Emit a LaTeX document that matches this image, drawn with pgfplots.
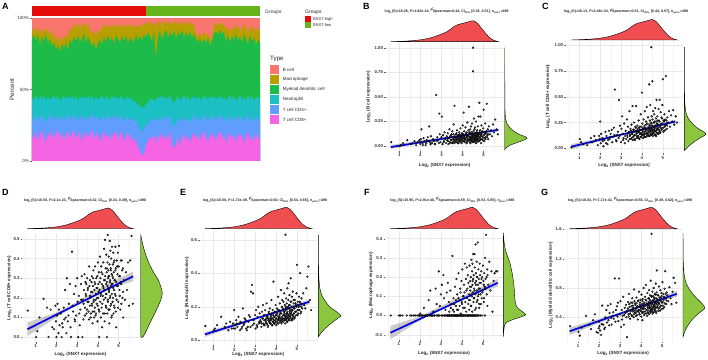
\documentclass[border=0pt]{standalone}
\usepackage{pgfplots}
\usepackage{pgfplotstable}
\usepackage{fontspec}
\setmainfont{Liberation Sans}
\pgfplotsset{compat=1.18}
\definecolor{cB}{HTML}{F8766D}
\definecolor{cMa}{HTML}{B79F00}
\definecolor{cMy}{HTML}{1CBB4A}
\definecolor{cNe}{HTML}{1BBFC4}
\definecolor{cC4}{HTML}{619CFF}
\definecolor{cC8}{HTML}{F564E3}
\definecolor{gRed}{HTML}{E60B0B}
\definecolor{gGreen}{HTML}{66B31C}
\definecolor{dRed}{HTML}{F04D50}
\definecolor{dGreen}{HTML}{8CC63F}
\definecolor{gridc}{HTML}{E8E8E8}
\definecolor{gridm}{HTML}{F3F3F3}
\pgfplotstableread{
i c1 c2 c3 c4 c5
0 19 31 44 86 91
1 15 28 43 88 93
2 21 33 46 84 90
3 14 27 42 89 94
4 18 30 45 81 88
5 22 32 44 87 92
6 16 29 46 84 91
7 13 26 42 89 93
8 20 31 45 82 89
9 17 30 43 86 92
10 21 33 44 80 87
11 15 27 46 83 90
12 19 31 43 78 84
13 22 32 45 81 88
14 16 28 42 76 82
15 20 31 44 82 87
16 14 29 46 79 85
17 18 30 43 83 89
18 21 33 45 77 86
19 16 28 44 85 93
20 19 31 46 82 91
21 22 32 43 87 96
22 15 30 45 84 93
23 18 27 42 88 97
24 20 33 45 83 92
25 14 29 44 86 95
26 17 31 46 89 97
27 21 30 43 82 93
28 16 28 45 87 96
29 19 32 44 84 92
30 22 33 46 80 89
31 15 29 42 83 91
32 18 31 45 78 87
33 20 30 43 82 92
34 13 27 44 85 90
35 17 32 46 81 93
36 21 30 43 87 95
37 16 28 45 83 94
38 19 33 44 88 96
39 14 29 42 84 92
40 20 31 46 86 95
41 17 30 44 82 94
42 22 33 45 88 96
43 15 28 43 85 92
44 18 31 44 83 95
45 21 32 46 87 94
46 13 26 42 84 96
47 17 30 44 88 93
48 20 31 45 82 95
49 15 28 43 86 94
50 18 31 44 85 96
51 12 27 41 83 92
52 16 29 42 88 95
53 10 25 39 85 94
54 7 23 39 87 96
55 4 21 38 84 93
56 5 22 37 89 97
57 11 26 40 86 95
58 14 25 41 90 96
59 17 29 43 87 98
60 15 28 44 84 95
61 19 31 42 90 97
62 12 27 43 72 93
63 18 30 45 87 97
64 16 28 44 91 98
65 20 32 46 85 94
66 14 27 43 89 97
67 18 31 45 92 98
68 15 29 43 86 96
69 21 33 46 90 97
70 11 25 42 87 95
71 9 24 41 92 98
72 12 26 43 85 96
73 17 30 45 90 97
74 10 27 42 88 95
75 16 29 44 92 98
76 19 31 46 86 96
77 14 28 43 90 97
78 18 30 45 87 94
79 13 26 42 91 98
80 17 30 44 86 96
81 20 32 46 89 95
82 15 28 43 85 89
83 19 31 45 83 87
84 14 27 44 86 90
85 18 30 42 82 86
86 21 33 46 85 90
87 16 29 44 83 88
88 13 27 43 86 89
89 19 31 45 81 85
90 16 30 44 84 87
91 20 32 46 89 95
92 14 28 43 91 97
93 18 30 44 88 94
94 21 33 46 92 97
95 15 29 43 89 96
96 19 31 45 90 95
97 12 26 42 84 92
98 17 30 44 88 94
99 20 32 46 83 90
100 15 28 43 87 93
101 18 31 45 85 92
102 13 27 42 89 95
103 20 32 44 84 94
104 16 29 46 87 91
105 19 31 43 83 92
106 12 26 44 89 96
107 17 30 42 85 93
108 21 33 46 82 89
109 14 28 43 88 95
110 18 30 45 84 91
111 13 27 42 86 94
112 20 32 44 81 89
113 16 29 45 85 93
114 15 28 43 83 92
}\stackdata
\pgfplotstableread{
x B C D E F G
0.62 .04 .01 .135 .085 0 .28
1.02 .00 .09 .00 .06 0 .20
1.08 .01 .06 .03 .07 0 .15
1.18 .03 .04 .10 .09 0 .26
1.38 .06 .03 .195 .14 0 .42
1.55 .02 .10 .15 .08 0 .30
1.62 .03 .06 .00 .10 0 .24
1.72 .05 .12 .14 .06 0 .36
1.80 .01 .08 .05 .11 0 .44
1.88 .04 .03 .04 .07 0 .20
1.95 .06 .12 .16 .10 0 .19
2.00 .02 .26 .00 .18 0 .34
2.02 .07 .05 .11 .09 .01 .28
2.05 .17 .14 .17 .07 0 .22
2.10 .03 .10 .02 .12 0 .16
2.15 .08 .02 .06 .08 0 .56
2.20 .05 .08 .12 .14 .04 .30
2.25 .01 .16 .00 .10 0 .24
2.30 .06 .12 .05 .11 0 .40
2.35 .09 .04 .15 .07 0 .50
2.42 .20 .17 .24 .19 .08 .56
2.45 .04 .09 .10 .09 0 .36
2.50 .10 .14 .30 .13 .13 .46
2.55 .03 .18 .08 .12 0 .58
2.60 .07 .11 .17 .06 0 .30
2.65 .05 .20 .27 .08 .02 .42
2.70 .02 .57 .00 .15 0 .38
2.75 .52 .08 .435 .14 .14 .93
2.80 .09 .13 .13 .29 .06 .50
2.85 .06 .16 .22 .33 0 .55
2.90 .33 .47 .08 .28 .23 .60
2.92 .12 .12 .26 .12 0 .35
2.95 .04 .22 .11 .10 .05 .93
3.00 .09 .06 .30 .15 .11 .44
3.02 .30 .19 .18 .07 0 .62
3.05 .02 .31 .00 .18 .16 .27
3.08 .11 .14 .21 .09 0 .50
3.12 .05 .10 .06 .14 .21 .42
3.15 .14 .24 .14 .20 .09 .68
3.18 .07 .05 .27 .10 0 .30
3.22 .03 .17 .31 .16 .03 .53
3.25 .10 .09 .00 .12 0 .46
3.28 .06 .28 .19 .11 .12 .57
3.30 .13 .13 .09 .08 0 .40
3.33 .02 .21 .24 .17 .17 .13
3.35 .08 .07 .32 .13 0 .49
3.38 .17 .16 .15 .21 .07 .61
3.40 .04 .36 .28 .10 .02 .44
3.42 .10 .12 .21 .15 0 .72
3.45 .06 .19 .12 .09 .13 .54
3.48 .12 .09 .30 .18 0 .38
3.50 .03 .23 .18 .12 .06 .48
3.52 .15 .14 .25 .10 0 .60
3.55 .07 .41 .13 .22 .31 .43
3.58 .22 .11 .36 .14 0 .66
3.60 .05 .18 .20 .09 .09 .50
3.62 .41 .25 .29 .13 .02 .56
3.65 .09 .13 .10 .17 0 .40
3.67 .04 .08 .23 .11 .15 .78
3.70 .12 .20 .31 .19 0 .46
3.72 .06 .41 .16 .12 .05 .59
3.74 .16 .15 .07 .10 .19 .52
3.76 .08 .10 .26 .15 0 .42
3.78 .03 .22 .34 .24 .11 .67
3.80 .11 .17 .19 .13 0 .48
3.82 .07 .12 .13 .09 .03 .55
3.84 .14 .27 .28 .18 .22 .37
3.86 .05 .16 .36 .11 0 .62
3.88 .10 .09 .11 .35 .08 .50
3.90 .18 .21 .22 .14 0 .75
3.92 .06 .14 .30 .10 .14 .44
3.94 .09 .33 .17 .17 .01 .57
3.96 .03 .18 .25 .12 0 .49
3.98 .13 .11 .08 .21 .18 .64
4.00 .07 .54 .38 .15 .06 .53
4.01 .21 .15 .20 .09 0 .41
4.02 .05 .24 .27 .13 .24 .71
4.04 .10 .13 .14 .19 0 .46
4.05 .34 .19 .33 .11 .10 .58
4.06 .08 .10 .00 .16 .04 .36
4.08 .15 .28 .24 .12 0 .65
4.10 .04 .16 .41 .26 .16 .51
4.11 .11 .12 .18 .14 0 .47
4.12 .07 .22 .30 .10 .12 .80
4.14 .19 .36 .10 .18 .27 .55
4.15 .06 .14 .22 .13 0 .43
4.16 .12 .20 .36 .15 .07 .60
4.18 .09 .17 .15 .22 0 .52
4.19 .03 .11 .27 .11 .19 .68
4.20 .14 .26 .05 .17 .02 .48
4.22 .08 .15 .32 .13 0 .56
4.23 .24 .40 .21 .30 .25 .84
4.24 .05 .13 .26 .12 .09 .45
4.25 .11 .19 .12 .16 0 .63
4.26 .07 .24 .38 .10 .14 .50
4.28 .16 .12 .19 .20 .21 .59
4.29 .10 .30 .29 .14 0 .42
4.30 .40 .17 .45 .24 .06 .73
4.31 .06 .14 .24 .12 .17 .54
4.32 .13 .21 .08 .18 0 .47
4.34 .08 .16 .495 .15 .11 .66
4.35 .04 .62 .31 .11 .03 .52
4.36 .17 .23 .20 .23 .26 .61
4.37 .09 .12 .35 .13 0 .44
4.38 .12 .27 .16 .17 .08 .77
4.39 .06 .18 .27 .28 .18 .56
4.40 .20 .42 .42 .12 .13 .49
4.41 .08 .14 .22 .16 0 .64
4.42 .14 .20 .33 .21 .20 .53
4.43 .05 .25 .00 .14 .05 .70
4.44 .11 .16 .28 .10 .15 .46
4.45 .23 .98 .12 .63 .29 .58
4.46 .07 .13 .38 .18 0 .90
4.47 .13 .31 .52 .13 .10 .51
4.48 .10 .19 .19 .25 .23 .62
4.49 .04 .22 .30 .15 .02 .48
4.50 1.00 .65 .25 .19 .16 1.54
4.50 .76 .15 .34 .12 .27 .55
4.51 .09 .28 .14 .22 0 .68
4.52 .15 .17 .41 .16 .12 .59
4.53 .06 .12 .23 .11 .19 .50
4.54 .28 .36 .31 .31 .32 .75
4.55 .12 .21 .07 .17 .07 .45
4.56 .08 .15 .37 .14 .21 .63
4.57 .17 .25 .49 .20 0 .54
4.58 .05 .18 .20 .13 .14 .69
4.59 .11 .33 .29 .24 .09 .52
4.60 .19 .14 .44 .34 .32 .80
4.61 .07 .20 .16 .15 .25 .57
4.62 .13 .26 .35 .19 0 .47
4.63 .09 .17 .26 .12 .17 .65
4.64 .25 .39 .40 .27 .11 .58
4.65 .06 .13 .10 .16 .37 .72
4.66 .14 .22 .32 .21 .22 .50
4.67 .10 .29 .22 .14 .04 .61
4.68 .04 .16 .46 .18 .18 .55
4.70 .16 .47 .27 .37 .28 .86
4.71 .08 .19 .18 .15 .13 .66
4.72 .12 .24 .37 .23 0 .48
4.73 .20 .14 .30 .13 .20 .59
4.74 .07 .31 .43 .17 .08 .74
4.75 .11 .20 .12 .20 .38 1.04
4.76 .30 .27 .33 .26 .16 .53
4.78 .05 .15 .24 .12 .24 .63
4.79 .13 .23 .39 .18 .11 .56
4.80 .44 .38 .15 .29 .19 .70
4.82 .09 .18 .29 .14 .06 .49
4.84 .16 .26 .46 .22 .27 .60
4.85 .30 .47 .21 .16 .14 .82
4.86 .07 .21 .35 .19 .21 .58
4.88 .12 .16 .05 .13 0 .67
4.90 .21 .35 .39 .24 .17 .54
4.92 .10 .24 .26 .17 .23 .77
4.94 .15 .19 .32 .21 .09 .62
4.96 .06 .29 .43 .15 .20 .51
4.98 .18 .42 .18 .28 .13 .69
5.00 .37 .67 .36 .45 .26 .60
5.02 .11 .20 .465 .18 .18 .88
5.04 .08 .27 .24 .23 .07 .56
5.06 .14 .17 .31 .16 .22 .72
5.08 .23 .33 .14 .20 .15 .64
5.10 .09 .22 .39 .26 .30 .54
5.12 .13 .28 .27 .18 .19 .79
5.15 .43 .70 .39 .40 .42 1.03
5.18 .11 .24 .20 .22 .11 .66
5.20 .17 .19 .35 .17 .24 .58
5.22 .07 .30 .10 .25 .21 .74
5.25 .20 .25 .29 .19 .16 .70
5.30 .12 .36 .19 .28 .28 .62
5.35 .16 .21 .33 .21 .13 .81
5.40 .10 .32 .24 .19 .23 .66
5.45 .22 .26 .38 .31 .02 .58
5.50 .14 .37 .16 .38 .18 .75
5.55 .27 .23 .39 .44 .22 .94
5.62 .17 .31 .515 .24 .23 .87
5.68 .12 .25 .17 .18 .23 .60
3.31 .05 .11 .17 .10 0 .47
3.37 .08 .15 .11 .13 0 .52
3.41 .03 .09 .22 .09 0 .41
3.44 .11 .13 .27 .12 0 .58
3.47 .06 .17 .14 .15 .04 .45
3.51 .09 .10 .24 .11 0 .50
3.54 .04 .14 .18 .13 0 .55
3.57 .12 .08 .09 .10 .03 .42
3.59 .07 .18 .26 .14 0 .60
3.61 .03 .12 .16 .08 0 .48
3.63 .10 .16 .21 .12 .06 .53
3.66 .06 .09 .12 .16 0 .44
3.69 .08 .21 .28 .11 0 .62
3.71 .13 .13 .17 .13 .08 .49
3.73 .04 .17 .23 .10 0 .57
3.75 .09 .11 .13 .14 0 .46
3.77 .06 .15 .30 .12 .03 .52
3.79 .11 .19 .18 .16 0 .59
3.81 .03 .12 .10 .09 0 .43
3.83 .08 .16 .24 .13 .09 .55
3.85 .05 .10 .15 .11 0 .49
3.87 .12 .20 .27 .15 0 .63
3.89 .07 .14 .19 .12 .05 .47
3.91 .09 .18 .12 .10 0 .54
3.93 .04 .11 .25 .14 .12 .44
3.95 .11 .15 .20 .17 0 .60
3.97 .06 .21 .31 .11 0 .51
3.99 .08 .13 .16 .13 .07 .56
4.03 .12 .17 .23 .15 0 .48
4.07 .05 .20 .13 .10 .10 .62
4.09 .09 .14 .28 .18 0 .53
4.13 .07 .11 .21 .12 .04 .58
4.17 .13 .18 .33 .14 0 .45
4.21 .04 .23 .17 .16 .13 .64
4.27 .10 .15 .25 .11 0 .50
4.33 .06 .19 .12 .19 .08 .57
4.33 .14 .12 .29 .13 0 .46
4.38 .03 .22 .22 .15 .15 .66
4.40 .09 .17 .15 .17 0 .54
4.43 .12 .13 .35 .12 .05 .60
4.46 .05 .24 .26 .20 .11 .49
4.48 .08 .18 .18 .14 0 .69
4.51 .11 .14 .31 .16 .18 .52
4.54 .04 .21 .24 .11 0 .58
4.56 .10 .16 .14 .19 .09 .47
4.58 .13 .25 .28 .15 0 .63
4.60 .07 .19 .21 .13 .13 .55
4.62 .09 .13 .34 .21 .03 .67
4.64 .03 .22 .17 .12 0 .50
4.66 .11 .17 .27 .17 .16 .60
4.68 .08 .12 .11 .14 0 .53
4.70 .06 .26 .31 .23 .07 .71
4.72 .13 .18 .20 .16 .20 .46
4.74 .10 .15 .25 .12 0 .58
4.76 .05 .23 .38 .18 .10 .65
4.78 .12 .19 .16 .20 0 .54
4.80 .08 .14 .29 .15 .14 .61
4.82 .14 .27 .22 .13 .04 .70
4.84 .06 .17 .34 .24 .17 .52
4.86 .10 .22 .13 .16 0 .59
4.88 .03 .15 .28 .19 .11 .64
4.90 .12 .20 .19 .14 .06 .49
4.93 .07 .30 .36 .22 .19 .67
4.95 .14 .18 .26 .17 0 .56
4.97 .09 .24 .15 .20 .12 .73
5.03 .05 .16 .31 .15 .16 .61
5.05 .12 .26 .21 .21 .09 .52
5.09 .07 .21 .28 .18 0 .68
5.13 .15 .18 .17 .23 .14 .59
5.17 .09 .27 .34 .16 .20 .72
5.21 .12 .22 .23 .20 .05 .63
3.10 .04 .08 .12 .08 0 .37
3.20 .08 .12 .19 .11 0 .43
2.88 .03 .10 .09 .09 0 .41
2.78 .05 .07 .16 .08 0 .34
2.68 .02 .13 .05 .11 0 .47
2.58 .06 .06 .11 .07 0 .39
2.48 .02 .11 .02 .10 0 .29
2.38 .05 .08 .09 .08 0 .33
2.28 .03 .05 .07 .06 0 .26
2.12 .01 .07 .14 .10 0 .31
1.98 .04 .09 .08 .07 0 .25
}\scat
\pgfplotsset{
  scat/.style={
    scale only axis, anchor=south west,
    xmin=.35, xmax=5.95,
    axis line style={draw=none},
    xtick={1,2,3,4,5},
    minor xtick={.5,1.5,2.5,3.5,4.5,5.5},
    grid=both,
    major grid style={gridc,line width=.4pt},
    minor grid style={gridm,line width=.3pt},
    tick align=outside, tickpos=left, major tick length=1.5pt, minor tick length=0pt,
    tick style={black!60,line width=.3pt},
    tick label style={font=\bfseries\fontsize{4.3}{5}\selectfont\color{black!80},inner sep=1pt},
    /pgf/number format/assume math mode=true,
    /pgf/number format/fixed, /pgf/number format/fixed zerofill,
    xticklabel={\pgfmathprintnumber[fixed,precision=0]{\tick}},
    xlabel={Log\textsubscript{2} (SNX7 expression)},
    clip=true,
  },
  labs/.style 2 args={
    every axis x label/.style={at={(axis description cs:0.5,0)},anchor=center,yshift=-#1,
       font=\bfseries\fontsize{4.5}{5}\selectfont,text=black!85,inner sep=0pt},
    every axis y label/.style={at={(axis description cs:0,0.5)},anchor=center,rotate=90,yshift=#2,
       font=\bfseries\fontsize{4.5}{5}\selectfont,text=black!85,inner sep=0pt}},
  pts/.style={only marks, mark=*, mark size=.9pt,
    mark options={draw=none,fill=black!62,fill opacity=.6}},
  fit/.style={color={rgb,255:red,0;green,0;blue,225}, line width=1.7pt},
  ribbon/.style={fill=black!45, fill opacity=.45, draw=none, forget plot},
  rden/.style={scale only axis, anchor=south west, axis lines=none, ymin=0, ymax=1, xmin=.35, xmax=5.95, clip=false},
  gden/.style={scale only axis, anchor=south west, axis lines=none, xmin=0, xmax=1, clip=false},
  dredp/.style={fill=dRed, draw=black, line width=.4pt, smooth, tension=.5},
  dgrnp/.style={fill=dGreen, draw=black, line width=.4pt, smooth, tension=.5},
}
\newcommand{\reddens}{%
 \addplot[dredp] coordinates {(.6,0)(1,.015)(1.5,.04)(2,.09)(2.5,.19)(3,.36)(3.3,.5)(3.6,.72)(3.8,.82)(4,.87)(4.3,.95)(4.5,1)(4.7,.88)(4.9,.64)(5.1,.39)(5.3,.18)(5.5,.06)(5.7,0)} -- cycle;}
\newcommand{\ttl}[5]{log\textsubscript{e}(S)=#1, \textit{P}=#2, \raisebox{1.2pt}{ρ̂}Spearman=#3, CI\textsubscript{95\%} [#4], #5}
\newcommand{\pl}[1]{\node[font=\bfseries\fontsize{9}{9}\selectfont,inner sep=0,anchor=west] at #1;}
\begin{document}
\begin{tikzpicture}[x=1pt,y=1pt]
\useasboundingbox (0,0) rectangle (708,359);
% Panel A
\fill[gRed] (32,343) rectangle (146,352.6);
\fill[gGreen] (146,343) rectangle (260,352.6);
\begin{axis}[scale only axis, anchor=south west, at={(32pt,198pt)}, width=228pt, height=143pt,
  xmin=0, xmax=114, ymin=0, ymax=100, axis line style={draw=none},
  xtick=\empty, ytick={0,50,100}, yticklabels={0\%,50\%,100\%},
  tick align=outside, tickpos=left, major tick length=2pt, tick style={black!60,line width=.3pt},
  tick label style={font=\fontsize{4.5}{5}\selectfont\color{black!80},inner sep=1pt},
  ylabel={Percent},
  every axis y label/.style={at={(axis description cs:0,0.5)},anchor=center,rotate=90,yshift=20pt,
     font=\fontsize{6.2}{7}\selectfont,text=black!85,inner sep=0pt}]
\addplot[draw=none,fill=cB] coordinates {(0,100)(114,100)} \closedcycle;
\addplot[draw=none,fill=cMa] table[x=i,y=c5]{\stackdata} \closedcycle;
\addplot[draw=none,fill=cMy] table[x=i,y=c4]{\stackdata} \closedcycle;
\addplot[draw=none,fill=cNe] table[x=i,y=c3]{\stackdata} \closedcycle;
\addplot[draw=none,fill=cC4] table[x=i,y=c2]{\stackdata} \closedcycle;
\addplot[draw=none,fill=cC8] table[x=i,y=c1]{\stackdata} \closedcycle;
\end{axis}
\node[font=\fontsize{5}{6}\selectfont,text=black!80,anchor=west,inner sep=0] at (265,346.3) {Groups};
\node[font=\fontsize{5}{6}\selectfont,text=black!85,anchor=west,inner sep=0] at (305,347) {Groups};
\fill[gRed] (304.7,337.3) rectangle (310.7,343.3);
\fill[gGreen] (304.7,331) rectangle (310.7,337);
\node[font=\fontsize{4.1}{5}\selectfont,text=black!85,anchor=west,inner sep=0] at (312.7,340) {SNX7-high};
\node[font=\fontsize{4.1}{5}\selectfont,text=black!85,anchor=west,inner sep=0] at (312.7,333.7) {SNX7-low};
\node[font=\fontsize{6.2}{7}\selectfont,text=black!85,anchor=west,inner sep=0] at (270,300.3) {Type};
\foreach \y/\c/\t in {294/cB/B cell,284/cMa/Macrophage,274/cMy/Myeloid dendritic cell,264/cNe/Neutrophil,254/cC4/T cell CD4+,244/cC8/T cell CD8+}{
  \fill[\c] (270,\y-9) rectangle (279,\y);
  \node[font=\fontsize{4.5}{5}\selectfont,text=black!85,anchor=west,inner sep=0] at (282.7,\y-4.5) {\t};
}
% Panel B
\begin{axis}[scat, labs={14pt}{17pt}, at={(385.6pt,208pt)}, width=118pt, height=108.2pt,
  ymin=-.05, ymax=1.05, ytick={0,.25,.5,.75,1},
  yticklabel={\pgfmathprintnumber[fixed,fixed zerofill,precision=2]{\tick}},
  ylabel={Log\textsubscript{2} (B cell expression)}]
\addplot[ribbon] coordinates {(.6,-.03)(3,.072)(4,.103)(5.7,.15)(5.7,.18)(4,.117)(3,.088)(.6,.012)} -- cycle;
\addplot[pts] table[x=x,y=B]{\scat};
\addplot[fit] coordinates {(.6,-.01)(5.7,.165)};
\end{axis}
\begin{axis}[rden, at={(385.6pt,317.3pt)}, width=118pt, height=21pt]\reddens\end{axis}
\begin{axis}[gden, at={(504.7pt,208pt)}, width=22.3pt, height=108.2pt, ymin=-.05, ymax=1.05]
\addplot[dgrnp] coordinates {(0,-.04)(.05,-.02)(.25,.01)(.55,.035)(.85,.06)(1,.078)(.93,.095)(.75,.11)(.55,.13)(.36,.16)(.2,.195)(.1,.23)(.05,.27)(.02,.33)(.01,.42)(.005,.6)(.002,.8)(0,1.0)} -- cycle;
\end{axis}
% Panel C
\begin{axis}[scat, labs={11.5pt}{17.8pt}, at={(565.8pt,205.5pt)}, width=116.8pt, height=113.5pt,
  ymin=-.05, ymax=1.05, ytick={0,.25,.5,.75,1},
  yticklabel={\pgfmathprintnumber[fixed,fixed zerofill,precision=2]{\tick}},
  ylabel={Log\textsubscript{2} (T cell CD4+ expression)}]
\addplot[ribbon] coordinates {(.6,-.01)(3,.125)(4,.172)(5.6,.245)(5.6,.275)(4,.188)(3,.14)(.6,.04)} -- cycle;
\addplot[pts] table[x=x,y=C]{\scat};
\addplot[fit] coordinates {(.6,.015)(5.6,.26)};
\end{axis}
\begin{axis}[rden, at={(565.8pt,319pt)}, width=116.8pt, height=20.5pt]\reddens\end{axis}
\begin{axis}[gden, at={(684.3pt,205.5pt)}, width=21.7pt, height=113.5pt, ymin=-.05, ymax=1.05]
\addplot[dgrnp] coordinates {(0,-.02)(.1,.0)(.25,.03)(.5,.07)(.8,.11)(1,.135)(.9,.16)(.72,.18)(.5,.215)(.33,.25)(.18,.29)(.1,.33)(.05,.38)(.02,.45)(.01,.55)(.005,.7)(0,.98)} -- cycle;
\end{axis}
% Panel D
\begin{axis}[scat, labs={12pt}{13pt}, at={(22.2pt,17pt)}, width=116.2pt, height=108pt,
  ymin=-.025, ymax=.525, ytick={0,.1,.2,.3,.4,.5},
  yticklabel={\pgfmathprintnumber[fixed,fixed zerofill,precision=1]{\tick}},
  ylabel={Log\textsubscript{2} (T cell CD8+ expression)}]
\addplot[ribbon] coordinates {(.6,.005)(2,.1)(3,.165)(4,.225)(5.7,.285)(5.7,.335)(4,.245)(3,.18)(2,.125)(.6,.075)} -- cycle;
\addplot[pts] table[x=x,y=D]{\scat};
\addplot[fit] coordinates {(.6,.04)(5.7,.31)};
\end{axis}
\begin{axis}[rden, at={(22.2pt,130.3pt)}, width=116.2pt, height=20.7pt]\reddens\end{axis}
\begin{axis}[gden, at={(140.7pt,17pt)}, width=21.6pt, height=108pt, ymin=-.025, ymax=.525]
\addplot[dgrnp] coordinates {(0,0)(.1,0)(.25,.03)(.42,.07)(.6,.11)(.78,.15)(.93,.19)(1,.22)(.95,.25)(.82,.29)(.65,.32)(.5,.35)(.33,.39)(.2,.43)(.1,.47)(.04,.5)(0,.52)} -- cycle;
\end{axis}
% Panel E
\begin{axis}[scat, labs={9pt}{12.7pt}, at={(199.7pt,13.7pt)}, width=117.1pt, height=114.3pt,
  ymin=-.03, ymax=.652, ytick={0,.2,.4,.6},
  yticklabel={\pgfmathprintnumber[fixed,fixed zerofill,precision=1]{\tick}},
  ylabel={Log\textsubscript{2} (Neutrophil expression)}]
\addplot[ribbon] coordinates {(.6,.02)(3,.122)(4,.16)(5.6,.215)(5.6,.245)(4,.174)(3,.134)(.6,.05)} -- cycle;
\addplot[pts] table[x=x,y=E]{\scat};
\addplot[fit] coordinates {(.6,.035)(5.6,.23)};
\end{axis}
\begin{axis}[rden, at={(199.7pt,130.3pt)}, width=117.1pt, height=21.4pt]\reddens\end{axis}
\begin{axis}[gden, at={(318.3pt,13.7pt)}, width=22.7pt, height=114.3pt, ymin=-.03, ymax=.652]
\addplot[dgrnp] coordinates {(0,.02)(.1,.04)(.3,.07)(.6,.105)(.9,.135)(1,.145)(.9,.16)(.7,.18)(.5,.2)(.3,.235)(.15,.27)(.07,.31)(.03,.36)(.01,.45)(0,.63)} -- cycle;
\end{axis}
% Panel F
\begin{axis}[scat, labs={13pt}{14pt}, at={(385pt,19pt)}, width=118pt, height=109pt,
  ymin=-.1276, ymax=.44, ytick={-.1,0,.1,.2,.3,.4},
  yticklabel={\pgfmathprintnumber[fixed,fixed zerofill,precision=1]{\tick}},
  ylabel={Log\textsubscript{2} (Macrophage expression)}]
\addplot[ribbon] coordinates {(.6,-.125)(2,-.025)(3,.035)(4,.085)(5.7,.15)(5.7,.19)(4,.1)(3,.05)(2,-.005)(.6,-.055)} -- cycle;
\addplot[pts] table[x=x,y=F]{\scat};
\addplot[fit] coordinates {(.6,-.09)(5.7,.17)};
\end{axis}
\begin{axis}[rden, at={(385pt,130.3pt)}, width=118pt, height=21.4pt]\reddens\end{axis}
\begin{axis}[gden, at={(503.3pt,19pt)}, width=22.4pt, height=109pt, ymin=-.1276, ymax=.44]
\addplot[dgrnp] coordinates {(0,-.11)(.03,-.07)(.1,-.04)(.45,-.02)(.85,-.005)(1,.005)(.8,.025)(.6,.045)(.52,.08)(.5,.12)(.45,.18)(.38,.23)(.28,.28)(.15,.32)(.06,.36)(.02,.4)(0,.43)} -- cycle;
\end{axis}
% Panel G
\begin{axis}[scat, labs={11.5pt}{13.7pt}, at={(564.4pt,17.5pt)}, width=117.6pt, height=112.5pt,
  ymin=.07, ymax=1.605, ytick={.4,.8,1.2,1.6},
  yticklabel={\pgfmathprintnumber[fixed,fixed zerofill,precision=1]{\tick}},
  ylabel={Log\textsubscript{2} (Myeloid dendritic cell expression)}]
\addplot[ribbon] coordinates {(.6,.16)(3,.435)(4,.545)(5.7,.68)(5.7,.76)(4,.575)(3,.465)(.6,.26)} -- cycle;
\addplot[pts] table[x=x,y=G]{\scat};
\addplot[fit] coordinates {(.6,.21)(5.7,.72)};
\end{axis}
\begin{axis}[rden, at={(564.4pt,130.3pt)}, width=117.6pt, height=21.4pt]\reddens\end{axis}
\begin{axis}[gden, at={(683pt,17.5pt)}, width=21.7pt, height=112.5pt, ymin=.07, ymax=1.605]
\addplot[dgrnp] coordinates {(0,.13)(.1,.22)(.25,.3)(.45,.38)(.75,.46)(1,.525)(.9,.58)(.7,.64)(.5,.7)(.3,.78)(.15,.86)(.07,.95)(.03,1.05)(.01,1.2)(0,1.55)} -- cycle;
\end{axis}
% Titles
\tikzset{ttlnode/.style={font=\bfseries\fontsize{3.6}{4}\selectfont,text=black!85,inner sep=0}}
\node[ttlnode] at (446.7,348) {\ttl{16.26}{1.02e-24}{0.44}{0.36, 0.51}{n\textsubscript{pairs}=498}};
\node[ttlnode] at (626,347.3) {\ttl{16.13}{2.48e-34}{0.51}{0.44, 0.57}{n\textsubscript{pairs}=498}};
\node[ttlnode] at (85,159) {\ttl{16.50}{2.1e-23}{0.42}{0.34, 0.49}{n\textsubscript{pairs}=498}};
\node[ttlnode] at (265,159) {\ttl{16.50}{1.73e-49}{0.60}{0.54, 0.65}{n\textsubscript{pairs}=498}};
\node[ttlnode] at (452.3,159) {\ttl{15.95}{2.91e-48}{0.59}{0.53, 0.65}{n\textsubscript{pairs}=498}};
\node[ttlnode] at (630,159) {\ttl{16.03}{7.17e-42}{0.56}{0.49, 0.62}{n\textsubscript{pairs}=498}};
% Panel letters
\pl{(2,353) {A}}
\pl{(363,353) {B}}
\pl{(542,353) {C}}
\pl{(2,167) {D}}
\pl{(180,167) {E}}
\pl{(364,167) {F}}
\pl{(541,167) {G}}
\end{tikzpicture}
\end{document}
